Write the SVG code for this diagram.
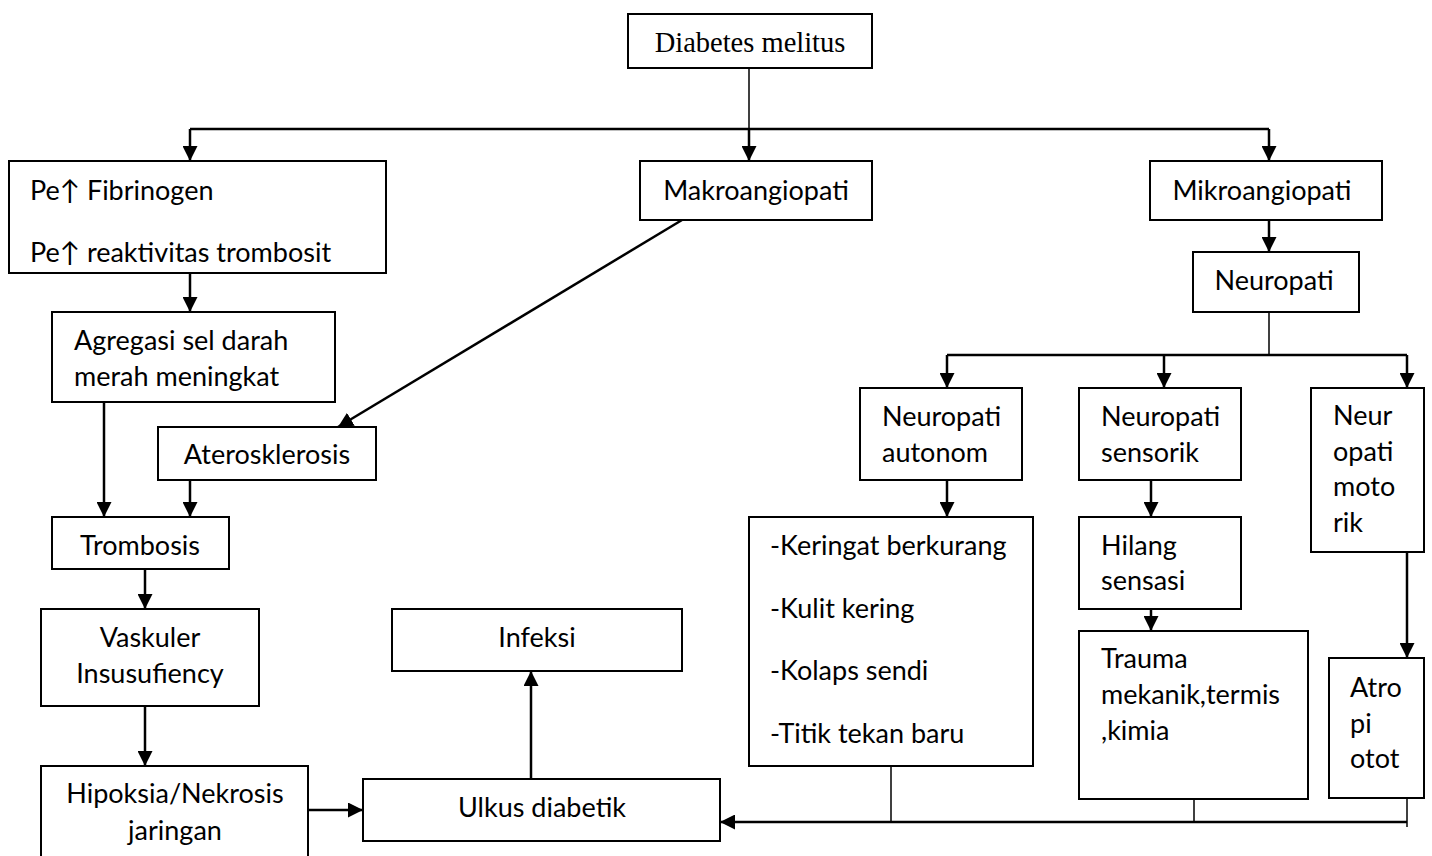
<svg xmlns="http://www.w3.org/2000/svg" width="1432" height="856" viewBox="0 0 1432 856">
<style>
rect{fill:#fff;stroke:#000;stroke-width:2}
text{font-family:Lato,"Liberation Sans",sans-serif;font-size:27px;fill:#000}
.serif{font-family:"Liberation Serif",serif;font-size:28.5px}
.m{text-anchor:middle}
.c line,.c path{stroke:#000;stroke-width:2.5;fill:none}
.c .thin{stroke-width:1.5}
</style>
<defs>
<marker id="ah" viewBox="0 0 15 15" refX="15" refY="7.5" markerWidth="15" markerHeight="15" markerUnits="userSpaceOnUse" orient="auto"><path d="M0,0 L15,7.5 L0,15 z" fill="#000"/></marker>
</defs>
<g class="c" id="connectors">
<line class="thin" x1="749" y1="68" x2="749" y2="129"/>
<line x1="190" y1="129" x2="1269" y2="129"/>
<line x1="190" y1="129" x2="190" y2="161" marker-end="url(#ah)"/>
<line x1="749" y1="129" x2="749" y2="161" marker-end="url(#ah)"/>
<line x1="1269" y1="129" x2="1269" y2="161" marker-end="url(#ah)"/>
<line x1="190" y1="273" x2="190" y2="312" marker-end="url(#ah)"/>
<line x1="682" y1="220" x2="338" y2="427" marker-end="url(#ah)"/>
<line x1="104" y1="402" x2="104" y2="517" marker-end="url(#ah)"/>
<line x1="190" y1="480" x2="190" y2="517" marker-end="url(#ah)"/>
<line x1="145" y1="569" x2="145" y2="609" marker-end="url(#ah)"/>
<line x1="145" y1="706" x2="145" y2="766" marker-end="url(#ah)"/>
<line x1="308" y1="810" x2="363" y2="810" marker-end="url(#ah)"/>
<line x1="531" y1="779" x2="531" y2="671" marker-end="url(#ah)"/>
<line x1="1269" y1="220" x2="1269" y2="252" marker-end="url(#ah)"/>
<line class="thin" x1="1269" y1="312" x2="1269" y2="355"/>
<line x1="947" y1="355" x2="1407" y2="355"/>
<line x1="947" y1="355" x2="947" y2="388" marker-end="url(#ah)"/>
<line x1="1164" y1="355" x2="1164" y2="388" marker-end="url(#ah)"/>
<line x1="1407" y1="355" x2="1407" y2="388" marker-end="url(#ah)"/>
<line x1="947" y1="480" x2="947" y2="517" marker-end="url(#ah)"/>
<line x1="1151" y1="480" x2="1151" y2="517" marker-end="url(#ah)"/>
<line x1="1151" y1="609" x2="1151" y2="631" marker-end="url(#ah)"/>
<line x1="1407" y1="552" x2="1407" y2="658" marker-end="url(#ah)"/>
<line class="thin" x1="891" y1="766" x2="891" y2="822"/>
<line class="thin" x1="1194" y1="797" x2="1194" y2="822"/>
<line class="thin" x1="1407" y1="798" x2="1407" y2="827"/>
<line x1="1407" y1="822" x2="720" y2="822" marker-end="url(#ah)"/>
</g>
<g id="diabetes"><rect x="628" y="14" width="244" height="54"/><text class="serif m" x="750" y="52">Diabetes melitus</text></g>
<g id="fibrinogen"><rect x="9" y="161" width="377" height="112"/><text x="30" y="200">Pe↑ Fibrinogen</text><text x="30" y="262">Pe↑ reaktivitas trombosit</text></g>
<g id="makro"><rect x="640" y="161" width="232" height="59"/><text class="m" x="756" y="200">Makroangiopati</text></g>
<g id="mikro"><rect x="1150" y="161" width="232" height="59"/><text class="m" x="1262" y="200">Mikroangiopati</text></g>
<g id="neuropati"><rect x="1193" y="252" width="166" height="60"/><text class="m" x="1274" y="290">Neuropati</text></g>
<g id="agregasi"><rect x="52" y="312" width="283" height="90"/><text x="74" y="350">Agregasi sel darah</text><text x="74" y="386">merah meningkat</text></g>
<g id="ateros"><rect x="158" y="427" width="218" height="53"/><text class="m" x="267" y="464">Aterosklerosis</text></g>
<g id="trombosis"><rect x="52" y="517" width="177" height="52"/><text class="m" x="140" y="555">Trombosis</text></g>
<g id="vaskuler"><rect x="41" y="609" width="218" height="97"/><text class="m" x="150" y="647">Vaskuler</text><text class="m" x="150" y="683">Insusufiency</text></g>
<g id="hipoksia"><rect x="41" y="766" width="267" height="100"/><text class="m" x="175" y="803">Hipoksia/Nekrosis</text><text class="m" x="175" y="840">jaringan</text></g>
<g id="ulkus"><rect x="363" y="779" width="357" height="62"/><text class="m" x="542" y="817">Ulkus diabetik</text></g>
<g id="infeksi"><rect x="392" y="609" width="290" height="62"/><text class="m" x="537" y="647">Infeksi</text></g>
<g id="autonom"><rect x="860" y="388" width="162" height="92"/><text x="882" y="426">Neuropati</text><text x="882" y="462">autonom</text></g>
<g id="sensorik"><rect x="1079" y="388" width="162" height="92"/><text x="1101" y="426">Neuropati</text><text x="1101" y="462">sensorik</text></g>
<g id="motorik"><rect x="1311" y="388" width="113" height="164"/><text x="1333" y="425">Neur</text><text x="1333" y="461">opati</text><text x="1333" y="496">moto</text><text x="1333" y="532">rik</text></g>
<g id="keringat"><rect x="749" y="517" width="284" height="249"/><text x="770" y="555">-Keringat berkurang</text><text x="770" y="618">-Kulit kering</text><text x="770" y="680">-Kolaps sendi</text><text x="770" y="743">-Titik tekan baru</text></g>
<g id="hilang"><rect x="1079" y="517" width="162" height="92"/><text x="1101" y="555">Hilang</text><text x="1101" y="590">sensasi</text></g>
<g id="trauma"><rect x="1079" y="631" width="229" height="168"/><text x="1101" y="668">Trauma</text><text x="1101" y="704">mekanik,termis</text><text x="1101" y="740">,kimia</text></g>
<g id="atropi"><rect x="1329" y="658" width="95" height="140"/><text x="1350" y="697">Atro</text><text x="1350" y="733">pi</text><text x="1350" y="768">otot</text></g>
</svg>
